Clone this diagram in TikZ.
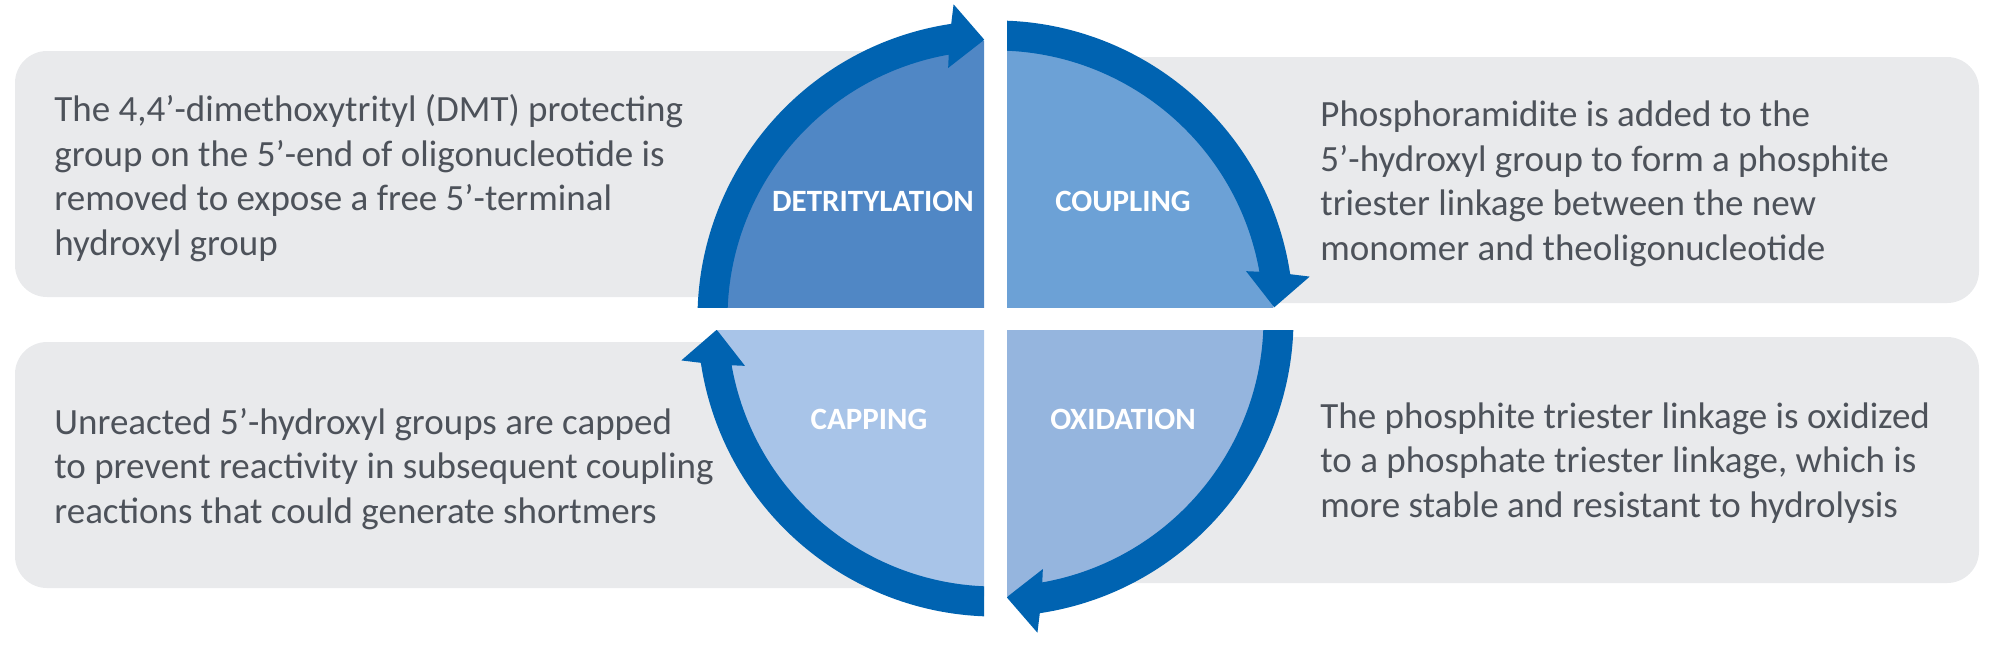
\documentclass[tikz,border=0pt]{standalone}
\usepackage{fontspec}
\setmainfont{Carlito}
\usepackage{xcolor}

\definecolor{ringBlue}{RGB}{0,99,177}
\definecolor{detrFill}{RGB}{80,135,197}
\definecolor{coupFill}{RGB}{108,161,214}
\definecolor{oxidFill}{RGB}{149,181,222}
\definecolor{cappFill}{RGB}{168,196,232}
\definecolor{panelGray}{RGB}{233,234,236}
\definecolor{textGray}{RGB}{77,82,90}

\begin{document}
\begin{tikzpicture}[x=0.5pt,y=0.5pt,yscale=-1,xscale=1,
    panel/.style={fill=panelGray,rounded corners=16pt},
    desc/.style={anchor=base west,inner sep=0pt,align=left,text=textGray,font=\fontsize{18.5}{22.2}\selectfont},
    stage/.style={inner sep=0pt,text=white,font=\fontsize{15.5}{18}\selectfont\bfseries}]
%set diagram to 2000 x 644
\useasboundingbox (0,0) rectangle (2000,644);

%Rounded Rect [detritylation panel]
    \fill[panel] (15,51) rectangle (900,297);
%Rounded Rect [coupling panel]
    \fill[panel] (1090,57) rectangle (1979,303);
%Rounded Rect [oxidation panel]
    \fill[panel] (1090,337) rectangle (1979,583);
%Rounded Rect [capping panel]
    \fill[panel] (15,342) rectangle (900,588);

%Quadrant [coupling]
\begin{scope}[shift={(995.5,318.5)},rotate=0]
    \clip (11.5,-11.5) rectangle (400,-400);
    \fill[coupFill] (0,0) circle [radius=278];
    \fill[ringBlue] (-95:298) arc [start angle=-95,end angle=-8.55,radius=298] -- (-7.6:317) -- (-2.3:279) -- (-10.7:255) -- (-10.05:268) arc [start angle=-10.05,end angle=-95,radius=268] -- cycle;
\end{scope}
%Quadrant [oxidation]
\begin{scope}[shift={(995.5,318.5)},rotate=90]
    \clip (11.5,-11.5) rectangle (400,-400);
    \fill[oxidFill] (0,0) circle [radius=278];
    \fill[ringBlue] (-95:298) arc [start angle=-95,end angle=-8.55,radius=298] -- (-7.6:317) -- (-2.3:279) -- (-10.7:255) -- (-10.05:268) arc [start angle=-10.05,end angle=-95,radius=268] -- cycle;
\end{scope}
%Quadrant [capping]
\begin{scope}[shift={(995.5,318.5)},rotate=180]
    \clip (11.5,-11.5) rectangle (400,-400);
    \fill[cappFill] (0,0) circle [radius=278];
    \fill[ringBlue] (-95:298) arc [start angle=-95,end angle=-8.55,radius=298] -- (-7.6:317) -- (-2.3:279) -- (-10.7:255) -- (-10.05:268) arc [start angle=-10.05,end angle=-95,radius=268] -- cycle;
\end{scope}
%Quadrant [detritylation]
\begin{scope}[shift={(995.5,318.5)},rotate=270]
    \clip (11.5,-11.5) rectangle (400,-400);
    \fill[detrFill] (0,0) circle [radius=278];
    \fill[ringBlue] (-95:298) arc [start angle=-95,end angle=-8.55,radius=298] -- (-7.6:317) -- (-2.3:279) -- (-10.7:255) -- (-10.05:268) arc [start angle=-10.05,end angle=-95,radius=268] -- cycle;
\end{scope}

% Text Node
    \draw (873,201) node (detr) [stage] {DETRITYLATION};
% Text Node
    \draw (1123,201) node (coup) [stage] {COUPLING};
% Text Node
    \draw (1123,419) node (oxid) [stage] {OXIDATION};
% Text Node
    \draw (869,419) node (capp) [stage] {CAPPING};

% Text Node (base = last line)
    \draw (54,255) node (detrText) [desc] {The 4,4’-dimethoxytrityl (DMT) protecting\\group on the 5’-end of oligonucleotide is\\removed to expose a free 5’-terminal\\hydroxyl group};
% Text Node
    \draw (1320,260) node (coupText) [desc] {Phosphoramidite is added to the\\5’-hydroxyl group to form a phosphite\\triester linkage between the new\\monomer and theoligonucleotide};
% Text Node
    \draw (1320,517) node (oxidText) [desc] {The phosphite triester linkage is oxidized\\to a phosphate triester linkage, which is\\more stable and resistant to hydrolysis};
% Text Node
    \draw (54,523) node (cappText) [desc] {Unreacted 5’-hydroxyl groups are capped\\to prevent reactivity in subsequent coupling\\reactions that could generate shortmers};

\end{tikzpicture}
\end{document}
